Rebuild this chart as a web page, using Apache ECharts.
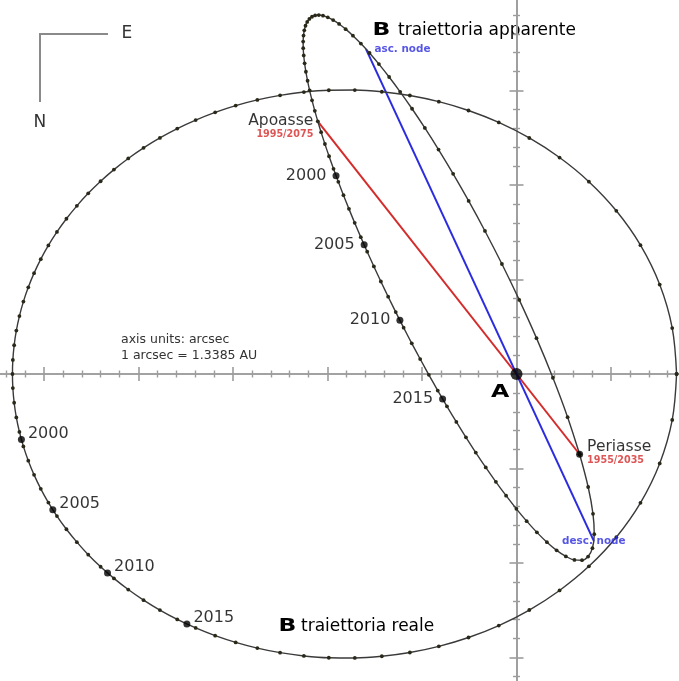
<!DOCTYPE html>
<html>
<head>
<meta charset="utf-8">
<script src="https://cdn.jsdelivr.net/npm/echarts@6/dist/echarts.min.js"></script>
<style>
  html, body { margin: 0; padding: 0; background: #ffffff; }
  #chart { width: 679px; height: 681px; }
</style>
</head>
<body>
<div id="chart"></div>
<script>
// Alpha Centauri B around A — yearly positions (arcsec), starting at periastron.

// True orbit in its own plane (major axis horizontal, A at the focus)
const trueOrbitX = [8.470, 8.240, 7.577, 6.559, 5.281, 3.830, 2.278, 0.677, -0.937, -2.539,
  -4.110, -5.641, -7.125, -8.555, -9.931, -11.249, -12.509, -13.712, -14.857, -15.944,
  -16.974, -17.949, -18.868, -19.732, -20.543, -21.300, -22.005, -22.659, -23.261, -23.813,
  -24.315, -24.767, -25.170, -25.525, -25.831, -26.090, -26.300, -26.464, -26.579, -26.648,
  -26.669, -26.648, -26.579, -26.464, -26.300, -26.090, -25.831, -25.525, -25.170, -24.767,
  -24.315, -23.813, -23.261, -22.659, -22.005, -21.300, -20.543, -19.732, -18.868, -17.949,
  -16.974, -15.944, -14.857, -13.712, -12.509, -11.249, -9.931, -8.555, -7.125, -5.641,
  -4.110, -2.539, -0.937, 0.677, 2.278, 3.830, 5.281, 6.559, 7.577, 8.240];
const trueOrbitY = [0, 2.429, 4.733, 6.818, 8.636, 10.177, 11.453, 12.488, 13.310, 13.943,
  14.411, 14.736, 14.935, 15.023, 15.013, 14.917, 14.744, 14.503, 14.200, 13.843,
  13.436, 12.985, 12.493, 11.966, 11.405, 10.815, 10.199, 9.559, 8.897, 8.215,
  7.517, 6.803, 6.076, 5.337, 4.587, 3.830, 3.065, 2.295, 1.520, 0.743,
  0, -0.743, -1.520, -2.295, -3.065, -3.830, -4.587, -5.337, -6.076, -6.803,
  -7.517, -8.215, -8.897, -9.559, -10.199, -10.815, -11.405, -11.966, -12.493, -12.985,
  -13.436, -13.843, -14.200, -14.503, -14.744, -14.917, -15.013, -15.023, -14.935, -14.736,
  -14.411, -13.943, -13.310, -12.488, -11.453, -10.177, -8.636, -6.818, -4.733, -2.429];

// Apparent orbit as seen on the sky (East to the right, North down)
const apparentOrbitX = [3.339, 2.704, 1.926, 1.058, 0.146, -0.771, -1.669, -2.532, -3.352, -4.125,
  -4.850, -5.526, -6.156, -6.739, -7.279, -7.777, -8.235, -8.655, -9.039, -9.387,
  -9.702, -9.985, -10.237, -10.460, -10.654, -10.820, -10.960, -11.074, -11.163, -11.228,
  -11.269, -11.288, -11.284, -11.258, -11.211, -11.143, -11.054, -10.946, -10.818, -10.671,
  -10.513, -10.338, -10.137, -9.918, -9.681, -9.426, -9.155, -8.866, -8.561, -8.239,
  -7.900, -7.546, -7.176, -6.790, -6.389, -5.973, -5.542, -5.097, -4.638, -4.166,
  -3.680, -3.183, -2.674, -2.155, -1.627, -1.092, -0.550, -0.006, 0.538, 1.079,
  1.609, 2.124, 2.613, 3.066, 3.465, 3.790, 4.017, 4.113, 4.047, 3.792];
const apparentOrbitY = [-4.246, -2.283, -0.199, 1.897, 3.920, 5.820, 7.568, 9.158, 10.592, 11.876,
  13.020, 14.035, 14.930, 15.714, 16.396, 16.984, 17.484, 17.903, 18.247, 18.520,
  18.727, 18.872, 18.959, 18.992, 18.972, 18.903, 18.788, 18.628, 18.427, 18.185,
  17.905, 17.589, 17.238, 16.854, 16.438, 15.991, 15.515, 15.011, 14.481, 13.924,
  13.369, 12.793, 12.168, 11.521, 10.854, 10.166, 9.461, 8.737, 7.997, 7.242,
  6.472, 5.690, 4.895, 4.090, 3.275, 2.453, 1.624, 0.792, -0.043, -0.877,
  -1.709, -2.535, -3.352, -4.156, -4.942, -5.705, -6.439, -7.136, -7.786, -8.379,
  -8.899, -9.331, -9.652, -9.837, -9.852, -9.660, -9.215, -8.473, -7.398, -5.978];

// Marked epochs
const yearLabels = ['2000', '2005', '2010', '2015'];
const trueYearX = [-26.195, -24.533, -21.638, -17.439];
const trueYearY = [-3.471, -7.183, -10.529, -13.229];
const apparentYearX = [-9.548, -8.061, -6.170, -3.910];
const apparentYearY = [10.492, 6.836, 2.840, -1.319];

// Line of apsides and line of nodes on the apparent orbit
const apoastron = [-10.513, 13.369];
const periastron = [3.339, -4.246];
const ascNode = [-7.963, 17.193];
const descNode = [4.090, -8.830];

// Axis tick labels that are printed
const xTickLabels = [-20, -10];
const yTickLabels = [10, -10];

const FONT = '"DejaVu Sans", sans-serif';
const AXIS_COLOR = '#9c9c9c';
const ORBIT_LINE = '#3a3a3a';
const DOT = '#2a2919';
const RED = '#d42b2b';
const BLUE = '#2b2be0';

const toPairs = (xs, ys) => xs.map((x, i) => [x, ys[i]]);
const closeLoop = pts => pts.concat([pts[0]]);

function orbitSeries(name, xs, ys) {
  return {
    type: 'line', name,
    data: closeLoop(toPairs(xs, ys)),
    smooth: 0.35,
    symbol: 'circle', symbolSize: 3.8, showSymbol: true,
    lineStyle: { color: ORBIT_LINE, width: 1.4 },
    itemStyle: { color: DOT, borderWidth: 0 },
    z: 3, silent: true
  };
}

function makeAxis(dim, withLabels, inside, shownValues) {
  const isX = dim === 'x';
  return {
    type: 'value',
    min: isX ? -30 : -20,
    max: isX ? 10 : 20,
    interval: 5,
    position: isX ? 'bottom' : 'left',
    axisLine: { show: true, onZero: true, onZeroAxisIndex: 0,
      lineStyle: { color: AXIS_COLOR, width: 1.6 } },
    axisTick: { show: true, inside, length: 7, lineStyle: { color: AXIS_COLOR, width: 1.6 } },
    minorTick: { show: true, splitNumber: 5, length: 3.5, lineStyle: { color: AXIS_COLOR, width: 1.4 } },
    axisLabel: {
      show: withLabels, margin: isX ? 15 : 9, color: '#666', fontSize: 12, fontFamily: FONT,
      formatter: v => (shownValues.includes(v) ? String(v) : '')
    },
    splitLine: { show: false },
    minorSplitLine: { show: false }
  };
}

const chart = echarts.init(document.getElementById('chart'), null, { renderer: 'canvas' });

chart.setOption({
  animation: false,
  backgroundColor: '#ffffff',
  grid: { left: -50.5, right: -26.5, top: -4, bottom: -71, containLabel: false, outerBoundsMode: 'none' },
  xAxis: [makeAxis('x', true, false, xTickLabels), makeAxis('x', false, true, [])],
  yAxis: [makeAxis('y', true, false, yTickLabels), makeAxis('y', false, true, [])],
  series: [
    {
      type: 'line', name: 'line of apsides', data: [apoastron, periastron],
      symbol: 'none', lineStyle: { color: RED, width: 2 }, z: 2, silent: true
    },
    {
      type: 'line', name: 'line of nodes', data: [ascNode, descNode],
      symbol: 'none', lineStyle: { color: BLUE, width: 2 }, z: 2, silent: true
    },
    orbitSeries('traiettoria reale', trueOrbitX, trueOrbitY),
    orbitSeries('traiettoria apparente', apparentOrbitX, apparentOrbitY),
    {
      type: 'scatter', name: 'epochs (true)',
      data: yearLabels.map((n, i) => ({ name: n, value: [trueYearX[i], trueYearY[i]] })),
      symbolSize: 7, itemStyle: { color: '#000' }, z: 5, silent: true,
      label: { show: true, position: 'right', distance: 3, offset: [0, -6], formatter: '{b}',
        fontFamily: FONT, fontSize: 16, color: '#000' }
    },
    {
      type: 'scatter', name: 'epochs (apparent)',
      data: yearLabels.map((n, i) => ({ name: n, value: [apparentYearX[i], apparentYearY[i]] })),
      symbolSize: 7, itemStyle: { color: '#000' }, z: 5, silent: true,
      label: { show: true, position: 'left', distance: 6, offset: [0, 0], formatter: '{b}',
        fontFamily: FONT, fontSize: 16, color: '#000' }
    },
    {
      type: 'scatter', name: 'periastron',
      data: [{ name: 'Periasse', value: periastron }],
      symbolSize: 7, itemStyle: { color: '#000' }, z: 5, silent: true,
      label: { show: true, position: 'right', distance: 4, offset: [0, -1],
        formatter: '{t|Periasse}\n{s|1955/2035}',
        rich: {
          t: { fontFamily: FONT, fontSize: 15.5, color: '#000', lineHeight: 15 },
          s: { fontFamily: FONT, fontSize: 9.6, fontWeight: 'bold', color: RED, lineHeight: 12 }
        } }
    },
    {
      type: 'scatter', name: 'apoastron',
      data: [{ name: 'Apoasse', value: apoastron }],
      symbolSize: 1, itemStyle: { color: ORBIT_LINE }, z: 5, silent: true,
      label: { show: true, position: 'left', distance: 4, offset: [0, 5.5],
        formatter: '{t|Apoasse}\n{s|1995/2075}',
        rich: {
          t: { fontFamily: FONT, fontSize: 15.5, color: '#000', lineHeight: 15 },
          s: { fontFamily: FONT, fontSize: 9.6, fontWeight: 'bold', color: RED, lineHeight: 12 }
        } }
    },
    {
      type: 'scatter', name: 'nodes',
      data: [
        { name: 'asc. node', value: ascNode,
          label: { position: 'right', distance: 8, offset: [0, 0] } },
        { name: 'desc. node', value: descNode,
          label: { position: 'inside', offset: [0, 0] } }
      ],
      symbolSize: 1, itemStyle: { color: BLUE }, z: 6, silent: true,
      label: { show: true, formatter: '{b}', fontFamily: FONT, fontSize: 10.4, fontWeight: 'bold', color: BLUE }
    },
    {
      type: 'scatter', name: 'A',
      data: [[0, 0]], symbolSize: 12, itemStyle: { color: '#000' }, z: 6, silent: true
    }
  ],
  graphic: [
    // compass
    { type: 'line', shape: { x1: 40, y1: 34, x2: 108, y2: 34 }, style: { stroke: '#8a8a8a', lineWidth: 2 } },
    { type: 'line', shape: { x1: 40, y1: 33, x2: 40, y2: 102 }, style: { stroke: '#8a8a8a', lineWidth: 2 } },
    { type: 'text', x: 121.5, y: 34, style: { text: 'E', font: '17px "DejaVu Sans"', fill: '#333', textVerticalAlign: 'middle' } },
    { type: 'text', x: 33.5, y: 123, style: { text: 'N', font: '17px "DejaVu Sans"', fill: '#333', textVerticalAlign: 'middle' } },
    // titles
    { type: 'text', x: 372.5, y: 30, scaleX: 1.3, style: { text: 'B', font: 'bold 18px "DejaVu Sans"', fill: '#000', textVerticalAlign: 'middle' } },
    { type: 'text', x: 398, y: 30.5, style: { text: 'traiettoria apparente', font: '17px "DejaVu Sans"', fill: '#000', textVerticalAlign: 'middle' } },
    { type: 'text', x: 278.5, y: 626.5, scaleX: 1.3, style: { text: 'B', font: 'bold 18px "DejaVu Sans"', fill: '#000', textVerticalAlign: 'middle' } },
    { type: 'text', x: 301, y: 627, style: { text: 'traiettoria reale', font: '17px "DejaVu Sans"', fill: '#000', textVerticalAlign: 'middle' } },
    // notes
    { type: 'text', x: 121, y: 340, style: { text: 'axis units: arcsec', font: '12.5px "DejaVu Sans"', fill: '#333', textVerticalAlign: 'middle' } },
    { type: 'text', x: 121, y: 356, style: { text: '1 arcsec = 1.3385 AU', font: '12.5px "DejaVu Sans"', fill: '#333', textVerticalAlign: 'middle' } },
    // primary star
    { type: 'text', x: 491, y: 393, scaleX: 1.39, style: { text: 'A', font: 'bold 17px "DejaVu Sans"', fill: '#000', textVerticalAlign: 'middle' } }
  ]
});
</script>
</body>
</html>
